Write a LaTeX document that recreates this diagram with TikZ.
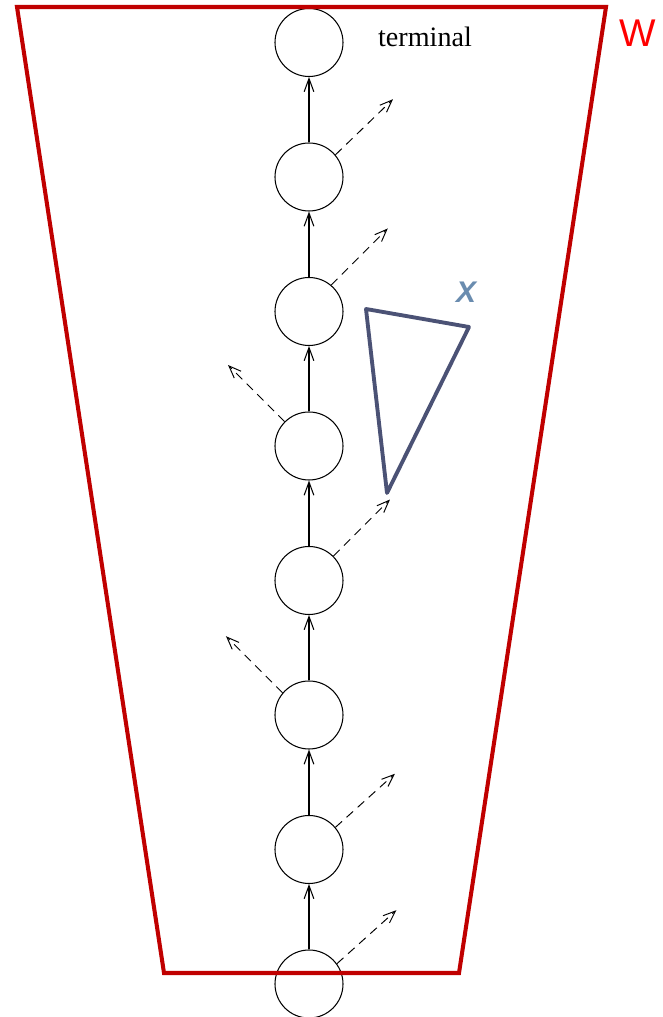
\documentclass[tikz,border=0pt]{standalone}
\usepackage{fontspec}
\usepackage{xcolor}
\usepackage{tikz}
\usetikzlibrary{arrows.meta}
\newfontfamily\labelfont{Liberation Sans}
\newfontfamily\termfont{Liberation Serif}
\definecolor{wred}{HTML}{C00000}
\definecolor{xslate}{HTML}{4B5275}
\definecolor{xblue}{HTML}{6A8CAF}

\begin{document}
\begin{tikzpicture}[
  state/.style={draw, circle, minimum size=1.36cm, inner sep=0pt, line width=0.6pt},
  arr/.style={-{Straight Barb[length=7.5pt, width=5.5pt, line width=0.6pt]}, line width=1pt},
  dasharr/.style={-{Straight Barb[length=7pt, width=5.5pt]}, line width=0.55pt, dash pattern=on 5pt off 3.5pt},
]
  \useasboundingbox (0,0) rectangle (13.26,20.34);

  % States along the path
  \node[state] (c1) at (6.18, 19.49) {};
  \node[state] (c2) at (6.18, 16.80) {};
  \node[state] (c3) at (6.18, 14.11) {};
  \node[state] (c4) at (6.18, 11.42) {};
  \node[state] (c5) at (6.18, 8.73) {};
  \node[state] (c6) at (6.18, 6.04) {};
  \node[state] (c7) at (6.18, 3.35) {};
  \node[state] (c8) at (6.18, 0.66) {};

  \node[font=\termfont\fontsize{16}{18}\selectfont] (term) at (8.5, 19.6) {terminal};

  % Path arrows
  \draw[arr] (c2) -- (c1);
  \draw[arr] (c3) -- (c2);
  \draw[arr] (c4) -- (c3);
  \draw[arr] (c5) -- (c4);
  \draw[arr] (c6) -- (c5);
  \draw[arr] (c7) -- (c6);
  \draw[arr] (c8) -- (c7);

  % Side branches
  \foreach \i/\a/\d in {2/40/44, 3/50/45, 4/135/135, 5/45/45, 6/140/135, 7/40/42, 8/36/42}
    \draw[dasharr] (c\i.\a) -- ++(\d:1.6);

  % Region W
  \draw[wred, line width=2.3pt] (0.34, 20.2) -- (12.12, 20.2) -- (9.18, 0.88) -- (3.28, 0.88) -- cycle;
  \node[font=\labelfont\fontsize{22}{24}\selectfont, text=red] (w) at (12.76, 19.68) {W};

  % Set X
  \draw[xslate, line width=2.2pt, line join=round] (7.32, 14.16) -- (9.38, 13.8) -- (7.74, 10.48) -- cycle;
  \node[font=\labelfont\bfseries\itshape\fontsize{17}{19}\selectfont, text=xblue] (x) at (9.32, 14.5) {X};
\end{tikzpicture}
\end{document}
